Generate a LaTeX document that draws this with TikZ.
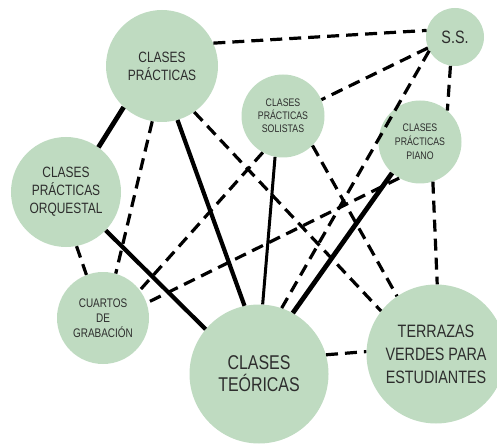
\documentclass[tikz,border=0pt]{standalone}
\usepackage{fontspec}
\setmainfont{Liberation Sans}[FakeStretch=0.8]
\begin{document}
\begin{tikzpicture}[x=1bp,y=-1bp,
  area/.style={circle, fill=areagreen, inner sep=0pt, align=center,
    text=labelgray},
  strong/.style={line width=#1, black},
  strong/.default=4.2bp,
  weak/.style={line width=3.2bp, black, dash pattern=on 12bp off 7bp}]
\definecolor{areagreen}{RGB}{191,219,193}
\definecolor{labelgray}{RGB}{45,45,45}
\useasboundingbox (0,0) rectangle (497,446);
\clip (0,0) rectangle (497,446);

% spaces
\node[area, minimum size=112bp, font=\fontsize{15}{18}\selectfont] (cp) at (162,66) {CLASES\\PRÁCTICAS};
\node[area, minimum size=58bp, font=\fontsize{18}{20}\selectfont] (ss) at (455,37) {S.S.};
\node[area, minimum size=83bp, font=\fontsize{11}{13}\selectfont] (sol) at (283,116) {CLASES\\PRÁCTICAS\\SOLISTAS};
\node[area, minimum size=83bp, font=\fontsize{11}{14}\selectfont] (pia) at (420,142) {CLASES\\PRÁCTICAS\\PIANO};
\node[area, minimum size=110bp, font=\fontsize{15}{18}\selectfont] (orq) at (66,192) {CLASES\\PRÁCTICAS\\ORQUESTAL};
\node[area, minimum size=92bp, font=\fontsize{12.5}{15}\selectfont] (cua) at (103,318) {CUARTOS\\DE\\GRABACIÓN};
\node[area, minimum size=139bp, font=\fontsize{20}{22}\selectfont] (teo) at (259,374) {CLASES\\TEÓRICAS};
\node[area, minimum size=139bp, font=\fontsize{18}{23}\selectfont] (ter) at (436,354) {TERRAZAS\\VERDES PARA\\ESTUDIANTES};

% strong links
\draw[strong=4.8bp] (cp.227) -- (orq.54);
\draw[strong] (cp.286) -- (teo.102);
\draw[strong] (orq.316) -- (teo.140);
\draw[strong=3bp] (sol.259) -- (teo.87);
\draw[strong=4.8bp] (pia.228) -- (teo.61);

% weak links
\draw[weak] (cp.24) -- (ss.167);
\draw[weak] (cp.260) -- (cua.74);
\draw[weak] (cp.305) -- (ter.142);
\draw[weak] (ss.202) -- (sol.23);
\draw[weak] (ss.261) -- (pia.49);
\draw[weak] (ss.208) -- (teo.71);
\draw[weak] (sol.241) -- (cua.37);
\draw[weak] (sol.315) -- (ter.124);
\draw[weak] (pia.240) -- (cua.19);
\draw[weak] (pia.288) -- (ter.89);
\draw[weak] (orq.281) -- (cua.111);
\draw[weak] (teo.16) -- (ter.178);
\end{tikzpicture}
\end{document}
